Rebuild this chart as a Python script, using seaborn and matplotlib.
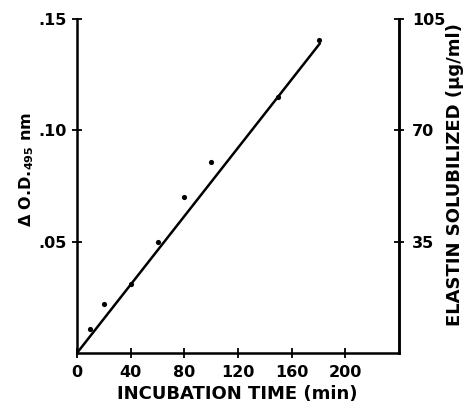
import matplotlib
matplotlib.use("Agg")
import matplotlib.pyplot as plt
import seaborn as sns
import pandas as pd

# Data
time_min = [10, 20, 40, 60, 80, 100, 150, 180]
delta_od = [0.011, 0.022, 0.031, 0.050, 0.070, 0.086, 0.115, 0.1405]
fit_x = [0, 181]
fit_y = [0.0, 0.139]

x_ticks = [0, 40, 80, 120, 160, 200]
left_ticks = [0.05, 0.10, 0.15]
left_labels = [".05", ".10", ".15"]
right_ticks = [35, 70, 105]
right_labels = ["35", "70", "105"]

sns.set_theme(style="ticks")
plt.rcParams['font.family'] = ['DejaVu Sans']
plt.rcParams['font.weight'] = 'bold'
plt.rcParams['text.color'] = 'black'
plt.rcParams['axes.labelcolor'] = 'black'
plt.rcParams['xtick.color'] = 'black'
plt.rcParams['ytick.color'] = 'black'

fig = plt.figure(figsize=(4.69, 4.04), dpi=100)
ax = fig.add_axes([77/469, (404-353)/404, (399-77)/469, (353-19)/404])

pts = pd.DataFrame({"t": time_min, "od": delta_od})
fit = pd.DataFrame({"t": fit_x, "od": fit_y})
sns.lineplot(data=fit, x="t", y="od", ax=ax, color="black", linewidth=1.8)
sns.scatterplot(data=pts, x="t", y="od", ax=ax, color="black", s=14,
                edgecolor="black", linewidth=0, zorder=5)

ax.set_xlim(0, 240)
ax.set_ylim(0, 0.15)
ax.set_xticks(x_ticks)
ax.set_xticklabels([str(v) for v in x_ticks], fontsize=11.5, fontweight='bold')
ax.set_yticks(left_ticks)
ax.set_yticklabels(left_labels, fontsize=11.5, fontweight='bold')
ax.tick_params(axis='both', direction='inout', length=7, width=1.3, color='black',
               labelcolor='black')
ax.tick_params(axis='x', pad=5)
ax.tick_params(axis='y', pad=4)
for s in ['left', 'bottom', 'right']:
    ax.spines[s].set_linewidth(1.8)
    ax.spines[s].set_color('black')
ax.spines['top'].set_visible(False)
ax.set_xlabel("")
ax.set_ylabel("")

ax2 = ax.twinx()
ax2.set_ylim(0, 105)
ax2.set_yticks(right_ticks)
ax2.set_yticklabels(right_labels, fontsize=11.5, fontweight='bold')
ax2.tick_params(axis='y', direction='inout', length=7, width=1.3, color='black',
                labelcolor='black', pad=6)
for s in ['top', 'left', 'bottom']:
    ax2.spines[s].set_visible(False)
ax2.spines['right'].set_linewidth(1.8)
ax2.spines['right'].set_color('black')

fig.text(237/469, 1 - 394/404, "INCUBATION TIME (min)", fontsize=13,
         fontweight='bold', ha='center', va='center', color='black')
fig.text(27/469, 1 - 169/404, r"$\mathbf{\Delta}$ O.D.$_{\mathbf{495}}$ nm",
         fontsize=11.5, fontweight='bold', rotation=90, ha='center', va='center',
         color='black')
fig.text(455/469, 1 - 175/404, "ELASTIN SOLUBILIZED (\u03bcg/ml)", fontsize=13,
         fontweight='bold', rotation=90, ha='center', va='center', color='black')

fig.savefig("out.png", dpi=100)
